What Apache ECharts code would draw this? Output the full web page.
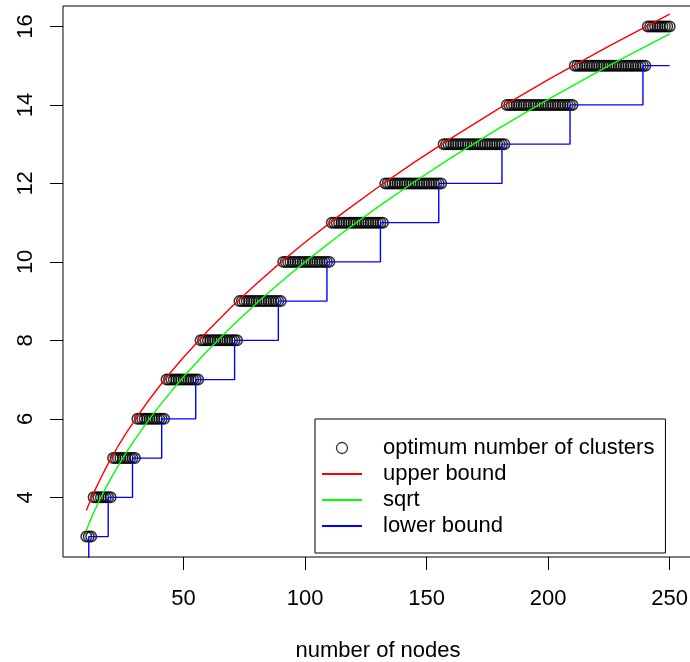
<!DOCTYPE html>
<html>
<head>
<meta charset="utf-8">
<script src="https://cdn.jsdelivr.net/npm/echarts@6/dist/echarts.min.js"></script>
<style>
html,body{margin:0;padding:0;background:#fff;}
#chart{width:690px;height:662px;}
</style>
</head>
<body>
<div id="chart"></div>
<script>
// optimum number of clusters: value k holds for nodes firstNode[i]..lastNode[i]
const optimumK  = [3, 4, 5, 6, 7, 8, 9, 10, 11, 12, 13, 14, 15, 16];
const firstNode = [10, 13, 21, 31, 43, 57, 73, 91, 111, 133, 157, 183, 211, 241];
const lastNode  = [12, 20, 30, 42, 56, 72, 90, 110, 132, 156, 182, 210, 240, 250];

// curves read at these node counts
const curveNodes = [10, 11, 12, 13, 14, 16, 18, 20, 23, 26, 30, 35, 40, 45, 50, 60, 70, 80, 90, 100, 115, 130, 145, 160, 180, 200, 225, 250];
const upperBound = [3.662, 3.817, 3.964, 4.106, 4.242, 4.500, 4.743, 4.972, 5.296, 5.599, 5.977, 6.416, 6.825, 7.208, 7.571, 8.246, 8.867, 9.444, 9.987, 10.500, 11.224, 11.902, 12.542, 13.149, 13.916, 14.642, 15.500, 16.311];
const sqrtCurve  = [3.162, 3.317, 3.464, 3.606, 3.742, 4.000, 4.243, 4.472, 4.796, 5.099, 5.477, 5.916, 6.325, 6.708, 7.071, 7.746, 8.367, 8.944, 9.487, 10.000, 10.724, 11.402, 12.042, 12.649, 13.416, 14.142, 15.000, 15.811];

// lower bound (stair steps)
const lowerNodes  = [10, 11, 19, 29, 41, 55, 71, 89, 109, 131, 155, 181, 209, 239, 250];
const lowerValues = [2, 3, 4, 5, 6, 7, 8, 9, 10, 11, 12, 13, 14, 15, 15];

const xTicks = [50, 100, 150, 200, 250];
const yTicks = [4, 6, 8, 10, 12, 14, 16];

const optimumPoints = [];
for (let i = 0; i < optimumK.length; i++) {
  for (let n = firstNode[i]; n <= lastNode[i]; n++) optimumPoints.push([n, optimumK[i]]);
}
const zip = (a, b) => a.map((v, i) => [v, b[i]]);

const FONT = "'Liberation Sans', Arial, Helvetica, sans-serif";
const chart = echarts.init(document.getElementById('chart'), null, {renderer: 'canvas'});
chart.setOption({
  animation: false,
  backgroundColor: '#fff',
  grid: {
    left: 63, top: 6, right: -3, bottom: 105,
    outerBoundsMode: 'none', containLabel: false,
    show: true, borderColor: '#000', borderWidth: 1, backgroundColor: 'transparent'
  },
  xAxis: {
    type: 'value', min: 0.4, max: 259.6,
    name: 'number of nodes', nameLocation: 'middle', nameGap: 83,
    nameTextStyle: {fontFamily: FONT, fontSize: 22, color: '#000'},
    axisLine: {show: false},
    splitLine: {show: false},
    axisTick: {show: true, length: 13, lineStyle: {color: '#000', width: 1}, customValues: xTicks},
    axisLabel: {fontFamily: FONT, fontSize: 22, color: '#000', margin: 31, customValues: xTicks}
  },
  yAxis: {
    type: 'value', min: 2.48, max: 16.52,
    axisLine: {show: false},
    splitLine: {show: false},
    axisTick: {show: true, length: 13, lineStyle: {color: '#000', width: 1}, customValues: yTicks},
    axisLabel: {fontFamily: FONT, fontSize: 22, color: '#000', margin: 26, rotate: 90, customValues: yTicks}
  },
  legend: {
    orient: 'vertical', left: 315, top: 419,
    padding: [18, 11, 16, 6],
    itemWidth: 40, itemHeight: 11, itemGap: 4,
    borderColor: '#000', borderWidth: 1, backgroundColor: '#fff',
    textStyle: {fontFamily: FONT, fontSize: 22, color: '#000', padding: [0, 0, 0, 16]},
    data: [
      {name: 'optimum number of clusters', icon: 'circle',
       itemStyle: {color: 'transparent', borderColor: '#000', borderWidth: 1.3}},
      {name: 'upper bound', itemStyle: {opacity: 0}},
      {name: 'sqrt', itemStyle: {opacity: 0}},
      {name: 'lower bound', itemStyle: {opacity: 0}}
    ]
  },
  series: [
    {
      name: 'optimum number of clusters', type: 'scatter', data: optimumPoints,
      symbol: 'circle', symbolSize: 10.5, z: 2,
      itemStyle: {color: 'transparent', borderColor: '#000', borderWidth: 1.5}
    },
    {
      name: 'upper bound', type: 'line', data: zip(curveNodes, upperBound),
      symbol: 'none', z: 3, color: '#ff0000',
      lineStyle: {color: '#ff0000', width: 1.4}
    },
    {
      name: 'sqrt', type: 'line', data: zip(curveNodes, sqrtCurve),
      symbol: 'none', z: 3, color: '#00ff00',
      lineStyle: {color: '#00ff00', width: 1.4}
    },
    {
      name: 'lower bound', type: 'line', data: zip(lowerNodes, lowerValues),
      step: 'end', symbol: 'none', z: 3, color: '#0000ff', clip: true,
      lineStyle: {color: '#0000ff', width: 1.4}
    }
  ]
});
</script>
</body>
</html>
